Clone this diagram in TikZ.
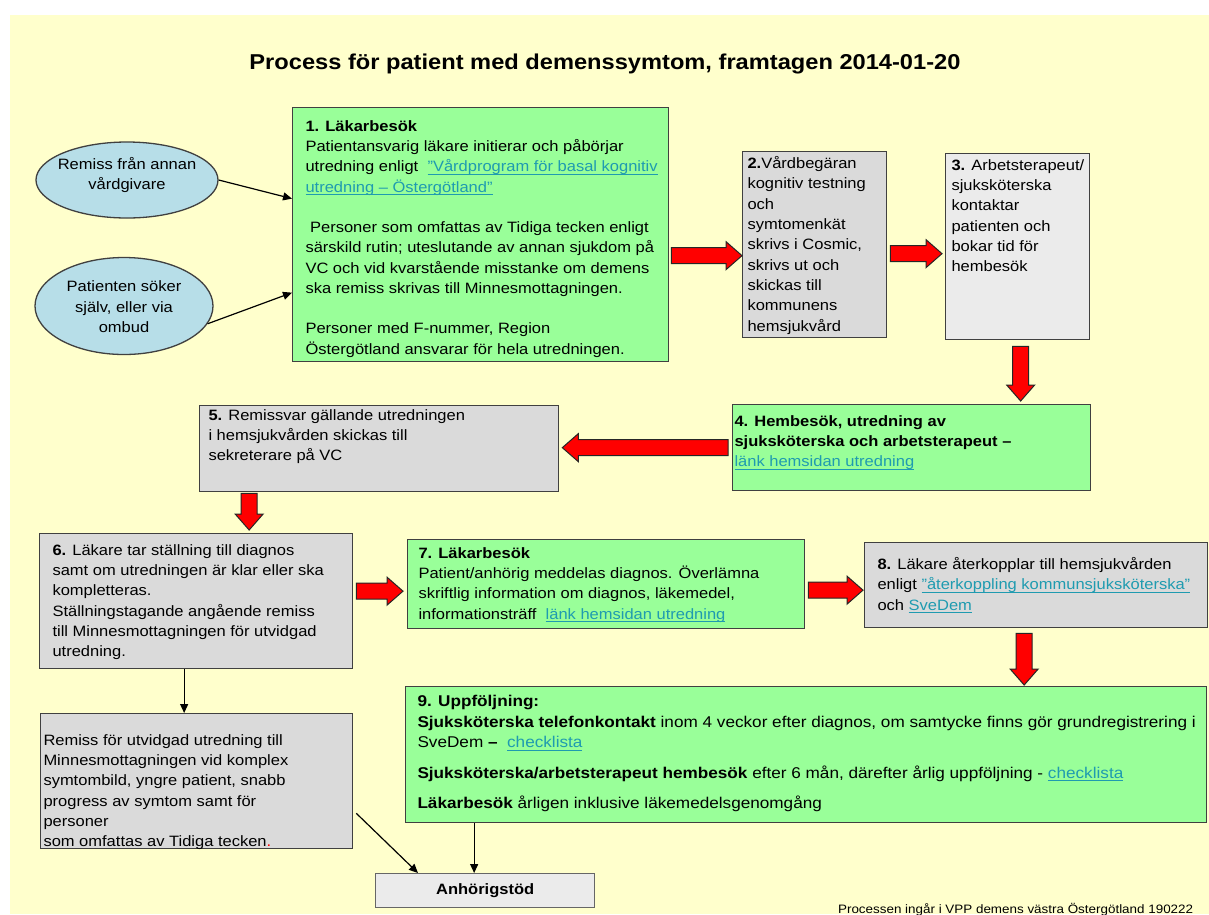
\documentclass[tikz,border=0pt]{standalone}
\usepackage{fontspec}
\setmainfont{Liberation Sans}[FakeStretch=1.1]
\usetikzlibrary{arrows.meta,calc,shapes.geometric}

\definecolor{bakgrund}{HTML}{FFFFCC}
\definecolor{gron}{HTML}{99FF99}
\definecolor{gra}{HTML}{DADADA}
\definecolor{ljusgra}{HTML}{EBEBEB}
\definecolor{ljusbla}{HTML}{B7DEE8}
\definecolor{lank}{HTML}{1F9BB0}
\newlength{\lnkbredd}
\newcommand{\lnk}[1]{{\color{lank}\settowidth{\lnkbredd}{#1}\rlap{\rule[-2.6pt]{\lnkbredd}{0.9pt}}#1}}
% rod blockpil fran #1 till #2
\newcommand{\rodpil}[2]{%
  \coordinate (rp-h) at ($(#2)!16pt!(#1)$);
  \filldraw[red,draw=black!85,line width=1pt] ($(#1)!8pt!90:(#2)$) -- ($(rp-h)!8pt!90:(#2)$)
    -- ($(rp-h)!14pt!90:(#2)$) -- (#2) -- ($(rp-h)!14pt!-90:(#2)$)
    -- ($(rp-h)!8pt!-90:(#2)$) -- ($(#1)!8pt!-90:(#2)$) -- cycle;}

\begin{document}
\begin{tikzpicture}[x=1pt,y=-1pt,line width=1pt,
  ruta/.style={draw=black!75,line width=1.3pt,anchor=north west,inner sep=0pt},
  txt/.style={anchor=north west,align=left,inner sep=0pt,font=\fontsize{15}{20.3}\selectfont,execute at begin node=\strut},
  oval/.style={ellipse,draw=black!75,line width=1.3pt,fill=ljusbla,inner sep=0pt},
  otxt/.style={align=center,inner sep=0pt,font=\fontsize{15}{20.5}\selectfont},
  pil/.style={-{Triangle[length=9pt,width=8pt]},line width=1.2pt}]
  \useasboundingbox (0,0) rectangle (1209,914);
  % bakgrund
  \fill[white] (0,0) rectangle (1209,914);
  \fill[bakgrund] (10,15) rectangle (1209,914);
  \node[anchor=base,font=\bfseries\fontsize{21.5}{26}\selectfont] (rubrik) at (605,69)
    {Process för patient med demenssymtom, framtagen 2014-01-20};

  % ingangar
  \node[oval,minimum width=182pt,minimum height=76pt] (remissin) at (127,180) {};
  \node[otxt] (tremiss) at ([yshift=5pt]remissin.center) {Remiss från annan\\vårdgivare};
  \node[oval,minimum width=178pt,minimum height=97pt] (patient) at (124,306) {};
  \node[otxt] (tpatient) at ([yshift=-1pt]patient.center) {Patienten söker\\själv, eller via\\ombud};

  % steg 1
  \node[ruta,fill=gron,minimum width=376pt,minimum height=254pt] (box1) at (292,107) {};
  \node[txt] (t1) at ([shift={(13,13)}]box1.north west) {\textbf{1. Läkarbesök}\\
    Patientansvarig läkare initierar och påbörjar\\
    utredning enligt \ \lnk{"Vårdprogram för basal kognitiv}\\
    \lnk{utredning – Östergötland"}\\[20pt]
    \ Personer som omfattas av Tidiga tecken enligt\\
    särskild rutin; uteslutande av annan sjukdom på\\
    VC och vid kvarstående misstanke om demens\\
    ska remiss skrivas till Minnesmottagningen.\\[20pt]
    Personer med F-nummer, Region\\
    Östergötland ansvarar för hela utredningen.};

  % steg 2 och 3
  \node[ruta,fill=gra,minimum width=144pt,minimum height=186pt] (box2) at (742,151) {};
  \node[txt] (t2) at ([shift={(5,5)}]box2.north west) {\textbf{2.}Vårdbegäran\\kognitiv testning\\och\\symtomenkät\\skrivs i Cosmic,\\skrivs ut och\\skickas till\\kommunens\\hemsjukvård};
  \node[ruta,fill=ljusgra,minimum width=144pt,minimum height=186pt] (box3) at (945,153) {};
  \node[txt] (t3) at ([shift={(6,6)}]box3.north west) {\textbf{3.} Arbetsterapeut/\\sjuksköterska\\kontaktar\\patienten och\\bokar tid för\\hembesök};

  % steg 4 och 5
  \node[ruta,fill=gron,minimum width=358pt,minimum height=86pt] (box4) at (732,404) {};
  \node[txt] (t4) at ([shift={(2,11)}]box4.north west) {\textbf{4. Hembesök, utredning av}\\\textbf{sjuksköterska och arbetsterapeut –}\\\lnk{länk hemsidan utredning}};
  \node[ruta,fill=gra,minimum width=359pt,minimum height=86pt] (box5) at (199,405) {};
  \node[txt] (t5) at ([shift={(9,4)}]box5.north west) {\textbf{5.} Remissvar gällande utredningen\\i hemsjukvården skickas till\\sekreterare på VC};

  % steg 6, 7 och 8
  \node[ruta,fill=gra,minimum width=313pt,minimum height=135pt] (box6) at (39,533) {};
  \node[txt] (t6) at ([shift={(13,11)}]box6.north west) {\textbf{6.} Läkare tar ställning till diagnos\\samt om utredningen är klar eller ska\\kompletteras.\\Ställningstagande angående remiss\\till Minnesmottagningen för utvidgad\\utredning.};
  \node[ruta,fill=gron,minimum width=397pt,minimum height=89pt] (box7) at (407,539) {};
  \node[txt] (t7) at ([shift={(11,8)}]box7.north west) {\textbf{7. Läkarbesök}\\Patient/anhörig meddelas diagnos. Överlämna\\skriftlig information om diagnos, läkemedel,\\informationsträff \ \lnk{länk hemsidan utredning}};
  \node[ruta,fill=gra,minimum width=343pt,minimum height=85pt] (box8) at (864,542) {};
  \node[txt] (t8) at ([shift={(13,15)}]box8.north west) {\textbf{8.} Läkare återkopplar till hemsjukvården\\enligt \lnk{"återkoppling kommunsjuksköterska"}\\och \lnk{SveDem}};

  % steg 9
  \node[ruta,fill=gron,minimum width=801pt,minimum height=136pt] (box9) at (405,686) {};
  \node[txt,font=\fontsize{15.6}{20.5}\selectfont] (t9) at ([shift={(12,9)}]box9.north west) {\textbf{9. Uppföljning:}\\
    \textbf{Sjuksköterska telefonkontakt} inom 4 veckor efter diagnos, om samtycke finns gör grundregistrering i\\
    SveDem \textbf{–} \ \lnk{checklista}\\[10pt]
    \textbf{Sjuksköterska/arbetsterapeut hembesök} efter 6 mån, därefter årlig uppföljning - \lnk{checklista}\\[10pt]
    \textbf{Läkarbesök} årligen inklusive läkemedelsgenomgång};

  % remiss och anhorigstod
  \node[ruta,fill=gra,minimum width=312pt,minimum height=135pt] (remissut) at (40,713) {};
  \node[txt] (t10) at ([shift={(3,21)}]remissut.north west) {Remiss för utvidgad utredning till\\Minnesmottagningen vid komplex\\symtombild, yngre patient, snabb\\progress av symtom samt för\\personer\\som omfattas av Tidiga tecken{\color{red}.}};
  \node[ruta,fill=ljusgra,draw=black!60,minimum width=219pt,minimum height=34pt] (anh) at (375,873) {};
  \node[font=\bfseries\fontsize{15}{18}\selectfont] (tanh) at (anh.center) {Anhörigstöd};
  \node[anchor=base east,font=\fontsize{12.2}{15}\selectfont] (kalla) at (1197,913) {Processen ingår i VPP demens västra Östergötland 190222};

  % tunna pilar
  \draw[pil] (remissin.east) -- ([shift={(0,-36)}]box1.west);
  \draw[pil] (patient.-12) -- ([shift={(0,58)}]box1.west);
  \draw[pil] ([xshift=-12pt]box6.south) -- ([xshift=-12pt]box6.south |- remissut.north);
  \draw[pil] ([shift={(3,-36)}]remissut.south east) -- ([shift={(43,0)}]anh.north west);
  \draw[pil] ([xshift=-11pt]anh.north |- box9.south) -- ([xshift=-11pt]anh.north);

  % roda pilar
  \coordinate (a12s) at ([shift={(2,21)}]box1.east);
  \coordinate (a12e) at (a12s -| box2.west);
  \rodpil{a12s}{a12e}
  \coordinate (a23s) at ([shift={(3,9)}]box2.east);
  \coordinate (a23e) at ([xshift=-3pt]a23s -| box3.west);
  \rodpil{a23s}{a23e}
  \coordinate (a34s) at ([shift={(3,6)}]box3.south);
  \coordinate (a34e) at ([yshift=3pt]a34s |- box4.north);
  \rodpil{a34s}{a34e}
  \coordinate (a45s) at ([xshift=-4pt]box4.west);
  \coordinate (a45e) at ([xshift=3pt]a45s -| box5.east);
  \rodpil{a45s}{a45e}
  \coordinate (a56s) at ([shift={(-130,1)}]box5.south);
  \coordinate (a56e) at ([yshift=3pt]a56s |- box6.north);
  \rodpil{a56s}{a56e}
  \coordinate (a67s) at ([shift={(3,-10)}]box6.east);
  \coordinate (a67e) at ([xshift=-4pt]a67s -| box7.west);
  \rodpil{a67s}{a67e}
  \coordinate (a78s) at ([shift={(3,6)}]box7.east);
  \coordinate (a78e) at ([xshift=-1pt]a78s -| box8.west);
  \rodpil{a78s}{a78e}
  \coordinate (a89s) at ([shift={(-12,5)}]box8.south);
  \coordinate (a89e) at ([yshift=1pt]a89s |- box9.north);
  \rodpil{a89s}{a89e}
\end{tikzpicture}
\end{document}
